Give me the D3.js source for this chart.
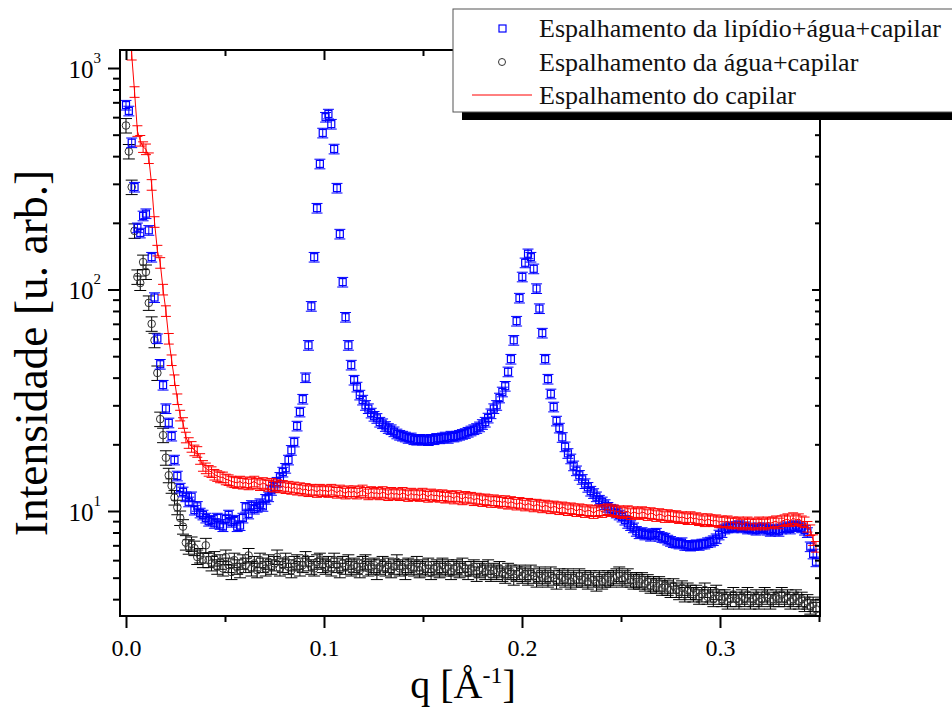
<!DOCTYPE html>
<html>
<head>
<meta charset="utf-8">
<script src="https://cdn.jsdelivr.net/npm/d3@7"></script>
<style>
  body { margin: 0; background: #fff; }
</style>
</head>
<body>
<div class="canvas"></div>
<script>
// q grid step (points are evenly spaced in q, starting at 0)
const qStep = 0.00144;

// lipídio + água + capilar (blue squares)
const lipidio = [
  680, 640, 460, 290, 190, 180, 215, 220, 185, 140,
  92, 60, 46, 37, 29, 25, 21.8, 17, 14.4, 12.7,
  12.2, 11.6, 11.0, 11.6, 10.1, 10.5, 9.8, 9.6, 9.3, 9.0,
  9.1, 8.8, 9.3, 8.7, 8.5, 9.2, 9.6, 8.9, 9.1, 8.5,
  8.6, 9.3, 10.4, 9.7, 10.6, 10.2, 10.4, 10.8, 10.5, 11.3,
  11.6, 12.4, 12.8, 13.5, 14.2, 15.0, 15.6, 17.0, 18.8, 20.5,
  24.2, 28, 32, 40, 56, 84, 140, 233, 369, 509,
  600, 620, 558, 431, 287, 178, 108, 75, 56, 45.6,
  39, 36.3, 33.4, 31.7, 30, 29.0, 27.7, 26.8, 26.2, 25.2,
  24.8, 24.1, 23.6, 23.3, 22.8, 22.3, 22.0, 21.8, 21.6, 21.3,
  21.4, 21.0, 20.9, 21.1, 20.9, 21.0, 20.8, 21.1, 21.0, 21.3,
  21.2, 21.4, 21.6, 21.3, 21.8, 21.6, 21.8, 22.0, 22.2, 22.4,
  22.7, 23.0, 23.3, 23.6, 24.0, 24.6, 25.2, 26.3, 27.5, 29.0,
  30.0, 32.4, 34.5, 36.6, 42.5, 48.5, 59, 72, 91.5, 114,
  132, 145, 140, 124, 101, 82, 63.6, 48.5, 39.4, 33.8,
  29.5, 25.5, 23.7, 21.5, 19.5, 18.2, 17.2, 16.0, 15.2, 14.5,
  13.9, 13.3, 12.8, 12.3, 12.0, 11.6, 11.2, 11.0, 10.7, 10.4,
  10.2, 10.1, 9.8, 9.6, 9.4, 9.1, 8.8, 8.6, 8.4, 8.1,
  7.9, 8.0, 7.8, 7.9, 7.7, 7.9, 7.95, 7.7, 7.6, 7.55,
  7.4, 7.3, 7.2, 7.17, 7.1, 7.2, 7.0, 7.0, 6.95, 7.0,
  7.05, 7.0, 7.1, 7.1, 7.2, 7.25, 7.35, 7.5, 7.8, 8.0,
  8.3, 8.4, 8.5, 8.4, 8.5, 8.6, 8.4, 8.5, 8.3, 8.4,
  8.3, 8.2, 8.4, 8.3, 8.4, 8.2, 8.1, 8.3, 8.2, 8.1,
  8.3, 8.4, 8.5, 8.3, 8.5, 8.6, 8.5, 8.4, 8.2, 8.0,
  6.9, 6.4, 5.9
];

// água + capilar (black circles)
const agua = [
  550, 420, 290, 184, 114, 107, 133, 120, 87, 70,
  59, 42, 26, 22, 17.4, 14.5, 13.0, 11.5, 10.4, 9.3,
  8.5, 7.2, 6.9, 7.1, 6.8, 6.2, 6.3, 6.0, 7.0, 6.0,
  5.8, 6.1, 5.6, 5.9, 5.5, 6.2, 5.7, 5.3, 6.0, 5.6,
  5.4, 5.9, 5.7, 6.3, 5.5, 5.8, 5.4, 6.0, 5.7, 5.5,
  5.9, 5.6, 5.8, 6.2, 5.5, 5.7, 6.0, 5.6, 5.4, 5.8,
  5.9, 5.5, 5.7, 6.1, 5.8, 5.6, 5.5, 5.9, 6.0, 5.7,
  5.6, 5.8, 5.5, 6.0, 5.7, 5.4, 5.8, 5.6, 5.9, 5.5,
  5.7, 5.6, 5.4, 5.8, 5.9, 5.5, 5.6, 5.7, 5.3, 5.6,
  5.8, 5.5, 5.7, 5.4, 5.6, 5.9, 5.5, 5.6, 5.3, 5.7,
  5.6, 5.5, 5.8, 5.4, 5.6, 5.5, 5.7, 5.3, 5.5, 5.6,
  5.4, 5.7, 5.5, 5.6, 5.3, 5.5, 5.6, 5.4, 5.7, 5.5,
  5.3, 5.5, 5.6, 5.2, 5.4, 5.5, 5.3, 5.6, 5.2, 5.4,
  5.3, 5.5, 5.2, 5.1, 5.4, 5.3, 5.0, 5.2, 5.3, 5.1,
  5.2, 5.0, 5.3, 5.1, 4.9, 5.2, 5.0, 5.1, 4.9, 5.2,
  5.0, 4.8, 5.1, 5.0, 4.9, 5.1, 4.8, 5.0, 4.9, 5.1,
  4.9, 5.0, 4.8, 5.0, 4.9, 4.7, 5.0, 4.8, 4.9, 5.0,
  4.9, 5.0, 5.1, 5.2, 4.9, 5.0, 5.1, 4.9, 4.8, 4.9,
  4.8, 4.9, 4.7, 4.8, 4.6, 4.7, 4.6, 4.7, 4.5, 4.6,
  4.5, 4.4, 4.6, 4.4, 4.3, 4.5, 4.2, 4.4, 4.3, 4.2,
  4.3, 4.1, 4.2, 4.4, 4.1, 4.2, 4.0, 4.3, 4.1, 4.0,
  4.1, 3.9, 4.0, 4.2, 4.0, 3.9, 4.1, 4.0, 4.2, 3.9,
  4.0, 4.1, 3.9, 4.0, 4.2, 4.1, 3.9, 4.0, 4.1, 4.0,
  4.2, 4.0, 4.1, 3.9, 4.0, 4.1, 3.9, 4.0, 3.8, 3.9,
  3.7, 3.8, 3.6
];

// capilar (red line)
const capilar = [
  2500, 1700, 1150, 780, 520, 470, 440, 430, 392, 297,
  202, 150, 132, 100, 80, 60, 48, 39, 32, 27,
  25, 21.5, 20.3, 19.5, 18.8, 18.5, 17.2, 16.0, 15.6, 15.2,
  15.0, 14.6, 14.4, 14.2, 14.2, 13.9, 13.8, 13.6, 13.5, 13.4,
  13.6, 13.3, 13.5, 13.2, 13.4, 13.6, 13.3, 13.1, 13.4, 13.2,
  13.0, 13.3, 12.9, 13.1, 12.8, 13.0, 12.7, 12.9, 12.6, 12.8,
  12.5, 12.7, 12.4, 12.6, 12.3, 12.5, 12.4, 12.2, 12.5, 12.3,
  12.4, 12.2, 12.5, 12.3, 12.1, 12.4, 12.2, 12.0, 12.3, 12.1,
  12.3, 12.0, 12.2, 12.4, 12.1, 11.9, 12.2, 12.0, 12.1, 11.9,
  12.2, 12.0, 11.8, 12.1, 11.9, 12.0, 11.8, 12.1, 11.9, 11.7,
  12.0, 11.8, 11.9, 11.7, 12.0, 11.8, 11.6, 11.9, 11.7, 11.8,
  11.6, 11.8, 11.5, 11.7, 11.6, 11.4, 11.7, 11.5, 11.3, 11.6,
  11.4, 11.5, 11.2, 11.4, 11.3, 11.1, 11.3, 11.2, 11.0, 11.2,
  11.0, 11.1, 10.9, 11.1, 10.8, 11.0, 10.9, 10.7, 10.9, 10.8,
  10.6, 10.8, 10.7, 10.5, 10.7, 10.6, 10.4, 10.6, 10.5, 10.3,
  10.5, 10.4, 10.2, 10.4, 10.3, 10.1, 10.3, 10.2, 10.0, 10.2,
  10.1, 9.9, 10.1, 10.0, 9.8, 10.0, 10.1, 9.9, 10.1, 10.2,
  10.0, 10.1, 9.9, 10.0, 9.8, 9.9, 10.0, 9.7, 9.9, 9.8,
  9.7, 9.9, 9.8, 9.6, 9.8, 9.7, 9.5, 9.7, 9.6, 9.4,
  9.6, 9.5, 9.4, 9.5, 9.3, 9.4, 9.3, 9.2, 9.4, 9.2,
  9.3, 9.1, 9.2, 9.0, 9.2, 9.1, 9.0, 9.1, 8.9, 9.0,
  8.9, 9.0, 8.8, 8.9, 8.8, 8.9, 8.7, 8.8, 8.9, 8.7,
  8.8, 8.7, 8.9, 8.8, 8.7, 8.9, 8.8, 8.9, 9.0, 8.8,
  9.0, 9.1, 9.2, 9.0, 9.3, 9.1, 9.2, 9.0, 8.9, 8.5,
  8.2, 7.4, 6.9
];

// relative error of each series
const errLipidio = 0.05;
const errAgua = 0.075;
const errCapilar = 0.055;

const xMajor = [0, 0.1, 0.2, 0.3];
const xMinor = [0.05, 0.15, 0.25, 0.35];
const yMajor = [10, 100, 1000];
const yMinor = [4, 5, 6, 7, 8, 9, 20, 30, 40, 50, 60, 70, 80, 90, 200, 300, 400, 500, 600, 700, 800, 900];

const legendLabels = [
  'Espalhamento da lipídio+água+capilar',
  'Espalhamento da água+capilar',
  'Espalhamento do capilar'
];

const serif = "'Liberation Serif', serif";

const svg = d3.select('.canvas').append('svg')
  .attr('width', 952)
  .attr('height', 713)
  .style('font-family', serif);

const margin = { top: 50, right: 132, bottom: 97, left: 120 };
const graphWidth = 952 - margin.left - margin.right;
const graphHeight = 713 - margin.top - margin.bottom;

const graph = svg.append('g')
  .attr('transform', `translate(${margin.left}, ${margin.top})`);

// scales
const x = d3.scaleLinear()
  .domain([-0.00303, 0.35051])
  .range([0, graphWidth]);

const y = d3.scaleLog()
  .domain([Math.pow(10, 0.526), Math.pow(10, 3.0813)])
  .range([graphHeight, 0]);

const toPoints = vals => vals.map((v, i) => ({ q: i * qStep, v: v }));

// clip data to the frame
svg.append('defs').append('clipPath').attr('id', 'plotClip')
  .append('rect').attr('width', graphWidth).attr('height', graphHeight);

const dataG = graph.append('g').attr('clip-path', 'url(#plotClip)');

const drawErrorBars = (pts, rel, capW, color) => {
  dataG.append('g')
    .attr('stroke', color)
    .attr('stroke-width', 1)
    .attr('fill', 'none')
    .selectAll('path').data(pts).enter().append('path')
    .attr('d', d => {
      const cx = x(d.q);
      const y1 = y(d.v * (1 + rel));
      const y2 = y(d.v * (1 - rel));
      return `M${cx},${y1}V${y2}M${cx - capW / 2},${y1}h${capW}M${cx - capW / 2},${y2}h${capW}`;
    });
};

// water + capillary
const aguaPts = toPoints(agua);
drawErrorBars(aguaPts, errAgua, 12, '#000');
dataG.append('g').selectAll('circle').data(aguaPts).enter().append('circle')
  .attr('cx', d => x(d.q))
  .attr('cy', d => y(d.v))
  .attr('r', 3.8)
  .attr('fill', 'none')
  .attr('stroke', '#333')
  .attr('stroke-width', 1);

// lipid + water + capillary
const lipPts = toPoints(lipidio);
drawErrorBars(lipPts, errLipidio, 11, '#0000ff');
dataG.append('g').selectAll('rect').data(lipPts).enter().append('rect')
  .attr('x', d => x(d.q) - 3.5)
  .attr('y', d => y(d.v) - 3.5)
  .attr('width', 7)
  .attr('height', 7)
  .attr('fill', 'none')
  .attr('stroke', '#0000ff')
  .attr('stroke-width', 1.2);

// capillary
const capPts = toPoints(capilar);
drawErrorBars(capPts, errCapilar, 10, '#ff0000');
dataG.append('path').datum(capPts)
  .attr('fill', 'none')
  .attr('stroke', '#ff0000')
  .attr('stroke-width', 1)
  .attr('d', d3.line().x(d => x(d.q)).y(d => y(d.v)));

// axes
const styleAxis = g => {
  g.attr('font-family', null).style('font-family', serif);
  g.select('.domain').remove();
  g.selectAll('.tick line').attr('stroke', '#000').attr('stroke-width', 2);
};

graph.append('g').attr('transform', `translate(0, ${graphHeight})`)
  .call(d3.axisBottom(x).tickValues(xMajor).tickSize(12).tickFormat(d3.format('.1f')))
  .call(styleAxis)
  .call(g => g.selectAll('text').attr('font-size', 24).attr('dy', 0).attr('y', 40).attr('fill', '#000'));
graph.append('g').attr('transform', `translate(0, ${graphHeight})`)
  .call(d3.axisBottom(x).tickValues(xMinor).tickSize(6).tickFormat(''))
  .call(styleAxis);

// top axis (ticks inward)
graph.append('g')
  .call(d3.axisBottom(x).tickValues(xMajor).tickSize(10).tickFormat(''))
  .call(styleAxis);
graph.append('g')
  .call(d3.axisBottom(x).tickValues(xMinor).tickSize(6).tickFormat(''))
  .call(styleAxis);

// left axis
graph.append('g')
  .call(d3.axisLeft(y).tickValues(yMajor).tickSize(12).tickFormat(''))
  .call(styleAxis)
  .call(g => {
    const t = g.selectAll('.tick').append('text')
      .attr('x', -19)
      .attr('y', 9)
      .attr('text-anchor', 'end')
      .attr('font-size', 25)
      .attr('fill', '#000');
    t.append('tspan').text('10');
    t.append('tspan').attr('dy', -15).attr('font-size', 15).text(d => Math.round(Math.log10(d)));
  });
graph.append('g')
  .call(d3.axisLeft(y).tickValues(yMinor).tickSize(7).tickFormat(''))
  .call(styleAxis);

// right axis (ticks inward)
graph.append('g').attr('transform', `translate(${graphWidth}, 0)`)
  .call(d3.axisLeft(y).tickValues(yMajor).tickSize(8).tickFormat(''))
  .call(styleAxis);
graph.append('g').attr('transform', `translate(${graphWidth}, 0)`)
  .call(d3.axisLeft(y).tickValues(yMinor).tickSize(5).tickFormat(''))
  .call(styleAxis);

// frame
graph.append('rect')
  .attr('width', graphWidth)
  .attr('height', graphHeight)
  .attr('fill', 'none')
  .attr('stroke', '#000')
  .attr('stroke-width', 2);

// axis titles
svg.append('text')
  .attr('transform', 'translate(47, 353) rotate(-90)')
  .attr('text-anchor', 'middle')
  .attr('font-size', 45.5)
  .attr('fill', '#000')
  .text('Intensidade [u. arb.]');

const xTitle = svg.append('text')
  .attr('x', 463)
  .attr('y', 698)
  .attr('text-anchor', 'middle')
  .attr('font-size', 40)
  .attr('fill', '#000');
xTitle.append('tspan').text('q [Å');
xTitle.append('tspan').attr('dy', -15).attr('font-size', 24).text('-1');
xTitle.append('tspan').attr('dy', 15).text(']');

// legend with drop shadow
const legend = svg.append('g');
legend.append('rect')
  .attr('x', 462).attr('y', 17).attr('width', 520).attr('height', 103)
  .attr('fill', '#000');
legend.append('rect')
  .attr('x', 453).attr('y', 9).attr('width', 520).attr('height', 103)
  .attr('fill', '#fff').attr('stroke', '#555').attr('stroke-width', 1);

legend.append('rect')
  .attr('x', 499).attr('y', 25).attr('width', 7).attr('height', 7)
  .attr('fill', 'none').attr('stroke', '#0000ff').attr('stroke-width', 1.2);
legend.append('circle')
  .attr('cx', 502).attr('cy', 62).attr('r', 3.5)
  .attr('fill', 'none').attr('stroke', '#333');
legend.append('line')
  .attr('x1', 472).attr('x2', 532).attr('y1', 95).attr('y2', 95)
  .attr('stroke', '#ff0000').attr('stroke-width', 1);

legend.selectAll('text.leg').data(legendLabels).enter().append('text')
  .attr('class', 'leg')
  .attr('x', 539)
  .attr('y', (d, i) => 37 + i * 33.5)
  .attr('font-size', 26)
  .attr('fill', '#111')
  .text(d => d);
</script>
</body>
</html>
